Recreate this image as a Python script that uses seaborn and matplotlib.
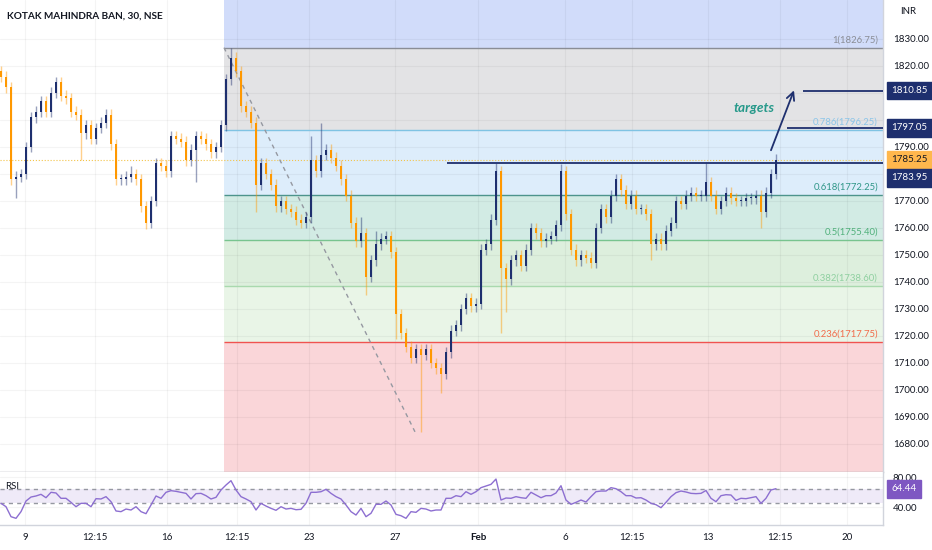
import numpy as np
import pandas as pd
import matplotlib
matplotlib.use("Agg")
import matplotlib.pyplot as plt
import seaborn as sns

sns.set_theme(style="white")
plt.rcParams["font.family"] = ["Lato", "DejaVu Sans"]

# ---- data (30 min candles, one every slot) ----
closes = [
    1816, 1812, 1778, 1779, 1780, 1790, 1801, 1803, 1807, 1803,
    1810, 1814, 1809, 1808, 1803, 1802, 1795, 1798, 1793, 1797,
    1799, 1802, 1791, 1778, 1778, 1779, 1780, 1778, 1768, 1762,
    1770, 1784, 1783, 1781, 1794, 1793, 1792, 1785, 1789, 1794,
    1793, 1791, 1788, 1790, 1798, 1815, 1823, 1818, 1805, 1803,
    1799, 1776, 1784, 1780, 1776, 1768, 1770, 1767, 1766, 1763,
    1762, 1764, 1785, 1781, 1787, 1789, 1786, 1783, 1778, 1772,
    1762, 1755, 1758, 1742, 1748, 1754, 1756, 1757, 1751, 1728,
    1721, 1716, 1712, 1715, 1713, 1715, 1710, 1708, 1706, 1714,
    1722, 1724, 1730, 1734, 1731, 1732, 1752, 1754, 1763, 1781,
    1745, 1741, 1748, 1750, 1746, 1752, 1760, 1758, 1755, 1756,
    1757, 1761, 1781, 1765, 1752, 1748, 1750, 1749, 1747, 1760,
    1767, 1764, 1772, 1778, 1774, 1769, 1772, 1767, 1767, 1765,
    1754, 1756, 1754, 1759, 1762, 1770, 1769, 1772, 1773, 1772,
    1772, 1777, 1772, 1767, 1770, 1773, 1771, 1770, 1770, 1771,
    1771, 1772, 1766, 1773, 1780, 1785.25,
]
first_open = 1818

upper_wick = [
    2, 2, 2, 2, 2, 2, 2, 2, 2, 2,
    2, 2, 2, 2, 2, 2, 2, 2, 2, 2,
    2, 2, 2, 2, 2, 2, 3, 2, 2, 2,
    2, 2, 2, 2, 2, 2, 2, 2, 2, 2,
    2, 2, 2, 2, 2, 2, 3.75, 2, 2, 2,
    2, 2, 2, 2, 2, 2, 2, 2, 2, 2,
    2, 2, 9, 2, 12, 2, 2, 2, 2, 2,
    2, 2, 6, 2, 2, 5, 2, 2, 2, 2,
    2, 2, 2, 2, 2, 2, 2, 2, 2, 2,
    2, 2, 2, 2, 2, 2, 2, 2, 2, 3,
    2, 2, 2, 2, 2, 2, 2, 2, 2, 2,
    2, 2, 2.5, 2, 2, 2, 2, 2, 2, 2,
    2, 2, 2, 2, 2, 2, 2, 2, 2, 2,
    2, 2, 2, 2, 2, 2, 2, 2, 2, 2,
    2, 7.5, 2, 2, 2, 2, 2, 2, 2, 2,
    2, 2, 2, 2, 2, 2,
]
lower_wick = [
    2, 2, 2, 7, 2, 2, 2, 2, 2, 2,
    2, 2, 2, 2, 2, 2, 10, 2, 2, 2,
    2, 2, 2, 2, 2, 2, 2, 2, 2, 2.5,
    2, 2, 2, 2, 2, 2, 2, 2, 2, 12,
    2, 2, 2, 2, 2, 2, 2, 2, 2, 2,
    2, 10, 2, 2, 2, 2, 2, 2, 2, 2,
    2, 2, 2, 2, 2, 2, 2, 2, 2, 2,
    2, 2, 2, 7, 2, 2, 2, 2, 2, 9,
    2, 2, 2, 2, 28.5, 2, 2, 2, 7, 2,
    2, 2, 2, 2, 2, 2, 2, 2, 2, 2,
    24, 12, 2, 2, 2, 2, 2, 2, 2, 2,
    2, 2, 2, 2, 2, 2, 2, 2, 2, 2,
    2, 2, 2, 2, 2, 2, 2, 2, 2, 2,
    6, 2, 2, 2, 2, 2, 2, 2, 2, 2,
    2, 2, 2, 2, 2, 2, 2, 2, 2, 2,
    2, 2, 6, 2, 2, 2,
]

rsi_values = [
    44.9, 40.4, 27.1, 24.9, 33.8, 48.0, 53.3, 54.7, 56.9, 52.4,
    59.6, 58.7, 51.6, 51.6, 46.2, 40.4, 44.9, 44.9, 40.4, 51.1,
    50.7, 53.8, 47.1, 34.7, 33.8, 37.3, 36.0, 40.4, 33.8, 31.1,
    42.7, 54.7, 51.6, 59.6, 61.8, 60.9, 59.6, 58.2, 50.7, 57.8,
    58.2, 55.1, 50.7, 52.9, 62.7, 69.3, 75.1, 62.7, 53.8, 50.7,
    47.1, 36.0, 44.9, 41.3, 38.2, 35.6, 40.4, 37.3, 38.2, 36.4,
    36.9, 44.9, 59.6, 59.6, 60.4, 63.6, 58.2, 53.8, 50.7, 42.7,
    33.8, 29.3, 38.2, 27.1, 31.6, 43.6, 43.6, 48.0, 42.7, 30.2,
    28.4, 24.9, 33.8, 32.9, 38.2, 37.3, 34.7, 36.0, 36.0, 51.6,
    51.6, 55.1, 53.8, 60.4, 56.9, 60.4, 65.8, 68.0, 70.2, 77.3,
    49.3, 52.0, 51.6, 53.8, 52.4, 51.6, 59.6, 56.0, 52.4, 55.1,
    55.1, 58.7, 68.4, 49.3, 43.6, 46.2, 49.3, 46.7, 53.8, 60.4,
    61.3, 61.3, 65.8, 64.4, 60.4, 55.1, 55.1, 52.0, 52.4, 49.3,
    44.9, 43.1, 39.1, 46.2, 53.8, 59.1, 61.3, 60.0, 58.2, 57.8,
    58.2, 62.0, 51.6, 47.1, 55.1, 56.4, 56.0, 48.9, 51.6, 51.1,
    52.4, 53.8, 44.9, 51.6, 62.7, 64.44,
]

fib_ratios = ["1", "0.786", "0.618", "0.5", "0.382", "0.236"]
fib_prices = [1826.75, 1796.25, 1772.25, 1755.40, 1738.60, 1717.75]
fib_line_colors = ["#8a8d96", "#7fc3e3", "#4d948c", "#78c48f", "#a9d9ae", "#f05350"]
fib_text_colors = ["#8a8d96", "#8cc5e8", "#2f9688", "#4fb07a", "#8fd0a0", "#f26b4a"]
# zones from top to bottom
zone_colors = ["#d1dcfa", "#e3e3e5", "#ddedfb", "#d2ebe4", "#ddefdd", "#e9f5e7", "#fad6d9"]

price_ticks = list(range(1670, 1840, 10))
hidden_ticks = [1670, 1780, 1800, 1810]  # covered by price tags / panel edge
rsi_ticks = [40, 80]
rsi_bands = [64, 46]

date_pos = [4.8, 18.8, 33.2, 47.2, 61.6, 78.8, 95.4, 112.8, 126.2, 141.4, 155.8, 169.2]
date_labels = ["9", "12:15", "16", "12:15", "23", "27", "Feb", "6", "12:15", "13", "12:15", "20"]

resistance = 1783.95
target_prices = [1797.05, 1810.85]
last_price = 1785.25
last_rsi = 64.44

NAVY = "#1e2f6e"
ORANGE = "#ff9800"
TEXT = "#131722"
XMIN, XMAX = -0.2, 176.4
YMIN, YMAX = 1669.8, 1844.4

df = pd.DataFrame({"close": closes})
df["open"] = [first_open] + closes[:-1]
df["high"] = df[["open", "close"]].max(axis=1) + np.array(upper_wick)
df["low"] = df[["open", "close"]].min(axis=1) - np.array(lower_wick)
df["idx"] = np.arange(len(df))
df["rsi"] = rsi_values
up = df["close"] >= df["open"]

fig = plt.figure(figsize=(9.32, 5.5), dpi=100)
ax = fig.add_axes([0, 0.1427, 0.9474, 0.8573])
ax_rsi = fig.add_axes([0, 0.04545, 0.9474, 0.0964])

# fib zones
fib_start = 44.6
bounds = [YMAX] + fib_prices + [YMIN]
for i, col in enumerate(zone_colors):
    ax.fill_between([fib_start, XMAX], bounds[i + 1], bounds[i], color=col, lw=0, zorder=0.2)
for price, ratio, lc, tc in zip(fib_prices, fib_ratios, fib_line_colors, fib_text_colors):
    ax.hlines(price, fib_start, XMAX, color=lc, lw=1, zorder=1)
    ax.annotate(f"{ratio}({price:.2f})", xy=(175.4, price), xytext=(0, 2.5),
                textcoords="offset points", ha="right", va="bottom",
                fontsize=6.8, color=tc, zorder=6)

# diagonal of the fib tool
ax.plot([fib_start, 82.8], [fib_prices[0], 1684.5], ls=(0, (3, 3)), color="#9598a1", lw=1, zorder=1.5)

# current price dotted line
ax.axhline(last_price, color="#f3c44b", lw=0.8, ls=":", zorder=1.2)

# candles
for mask, col in [(up, NAVY), (~up, ORANGE)]:
    d = df[mask]
    ax.vlines(d["idx"], d["low"], d["high"], color=col, alpha=0.45, lw=1, zorder=3)
    body = np.maximum((d["close"] - d["open"]).abs(), 0.35)
    ax.bar(d["idx"], body, bottom=d[["open", "close"]].min(axis=1), width=0.58,
           color=col, lw=0, zorder=4)

# resistance and target lines
ax.hlines(resistance, 89.2, XMAX, color=NAVY, lw=1.3, zorder=5)
ax.hlines(target_prices[0], 157.2, XMAX, color=NAVY, lw=1.3, zorder=5)
ax.hlines(target_prices[1], 160.4, XMAX, color=NAVY, lw=1.3, zorder=5)
ax.annotate("", xy=(158.8, 1811.9), xytext=(153.8, 1787.8),
            arrowprops=dict(arrowstyle="->", color=NAVY, lw=1.3, mutation_scale=14), zorder=6)
ax.text(150.6, 1804.4, "targets", color="#26998a", fontsize=9.8, fontweight="bold",
        fontstyle="italic", ha="center", va="center", zorder=6)

ax.set_xlim(XMIN, XMAX)
ax.set_ylim(YMIN, YMAX)
ax.set_xticks(date_pos)
ax.set_yticks(price_ticks)
ax.set_yticklabels(["" if v in hidden_ticks else f"{v:.2f}" for v in price_ticks])
ax.yaxis.tick_right()
ax.tick_params(axis="y", length=0, pad=7, labelsize=7, labelcolor=TEXT)
ax.tick_params(axis="x", length=0, labelbottom=False)
ax.grid(True, color="#000000", alpha=0.045, lw=0.8)
ax.set_axisbelow(True)
for s in ["left", "top"]:
    ax.spines[s].set_visible(False)
for s in ["right", "bottom"]:
    ax.spines[s].set_color("#d1d4dc")
    ax.spines[s].set_linewidth(1)

# price tags on the axis
tag_style = dict(xycoords=("axes fraction", "data"), textcoords="offset points",
                 ha="left", va="center", fontsize=7, annotation_clip=False, zorder=10)
for v in target_prices:
    ax.annotate(f"{v:.2f}", xy=(1.0, v), xytext=(6, 0), color="white",
                bbox=dict(boxstyle="square,pad=0.45", fc=NAVY, ec=NAVY), **tag_style)
ax.annotate(f"{last_price:.2f}", xy=(1.0, last_price), xytext=(6, 0), color=TEXT,
            bbox=dict(boxstyle="square,pad=0.45", fc="#ffb74d", ec="#ffb74d"), **tag_style)
ax.annotate(f"{resistance:.2f}", xy=(1.0, resistance), xytext=(6, -10.5), color="white",
            bbox=dict(boxstyle="square,pad=0.45", fc=NAVY, ec=NAVY), **tag_style)

ax.text(0.008, 0.965, "KOTAK MAHINDRA BAN, 30, NSE", transform=ax.transAxes,
        fontsize=7.2, fontweight="bold", color=TEXT, ha="left", va="center")
fig.text(900 / 932, 1 - 12 / 550, "INR", fontsize=7, color=TEXT, ha="left", va="center")

# RSI panel
ax_rsi.fill_between([XMIN, XMAX], rsi_bands[1], rsi_bands[0], color="#efeaf8", lw=0, zorder=0.2)
for b in rsi_bands:
    ax_rsi.axhline(b, color="#9598a1", lw=1, ls=(0, (3, 3)), zorder=1)
sns.lineplot(data=df, x="idx", y="rsi", ax=ax_rsi, color="#8d6fd1", lw=1, zorder=3)
ax_rsi.set_xlim(XMIN, XMAX)
ax_rsi.set_ylim(16, 86.7)
ax_rsi.set_xticks(date_pos)
ax_rsi.set_xticklabels(date_labels)
ax_rsi.set_yticks(rsi_ticks)
ax_rsi.set_yticklabels([f"{v:.2f}" for v in rsi_ticks])
ax_rsi.yaxis.tick_right()
ax_rsi.tick_params(axis="y", length=0, pad=7, labelsize=7, labelcolor=TEXT)
ax_rsi.tick_params(axis="x", length=0, pad=6, labelsize=7, labelcolor=TEXT)
for lbl in ax_rsi.get_xticklabels():
    if lbl.get_text() == "Feb":
        lbl.set_fontweight("bold")
ax_rsi.set_xlabel("")
ax_rsi.set_ylabel("")
ax_rsi.grid(True, color="#000000", alpha=0.045, lw=0.8)
ax_rsi.set_axisbelow(True)
for s in ["left", "top"]:
    ax_rsi.spines[s].set_visible(False)
for s in ["right", "bottom"]:
    ax_rsi.spines[s].set_color("#d1d4dc")
    ax_rsi.spines[s].set_linewidth(1)
ax_rsi.annotate(f"{last_rsi:.2f}", xy=(1.0, last_rsi), xycoords=("axes fraction", "data"),
                xytext=(6, 0), textcoords="offset points", ha="left", va="center",
                fontsize=7, color="white", annotation_clip=False, zorder=10,
                bbox=dict(boxstyle="square,pad=0.45", fc="#7e57c2", ec="#7e57c2"))
ax_rsi.text(0.006, 0.72, "RSI", transform=ax_rsi.transAxes, fontsize=7, color=TEXT,
            ha="left", va="center")

fig.savefig("out.png", dpi=100)
